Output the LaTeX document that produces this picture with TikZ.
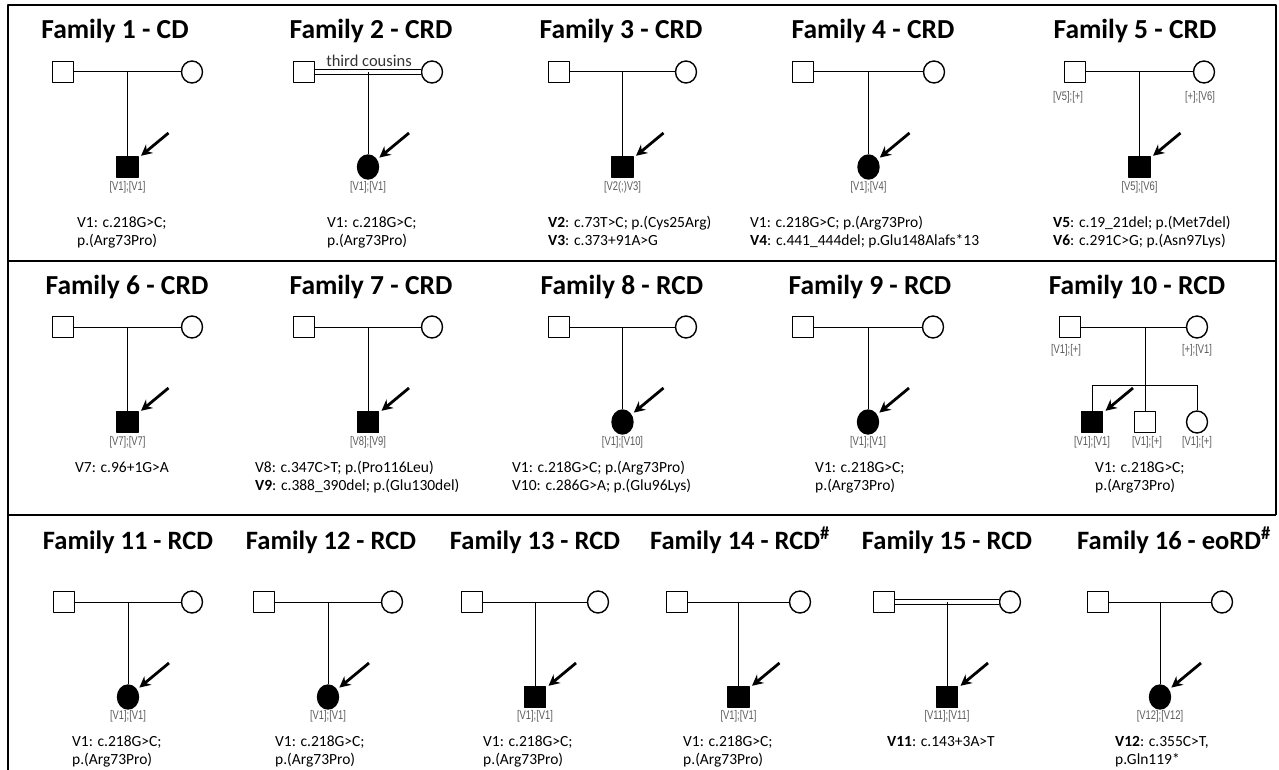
\documentclass[tikz,border=0pt]{standalone}
\usepackage{fontspec}
\setmainfont{Carlito}
\newfontfamily\genofont[FakeStretch=0.75]{Liberation Sans}
\usetikzlibrary{arrows.meta,calc,shapes.geometric}

\begin{document}
\begin{tikzpicture}[x=1pt, y=-1pt, line join=round,
    male/.style={draw, line width=1.4pt, minimum size=21pt, inner sep=0pt},
    female/.style={draw, ellipse, line width=1.4pt, minimum width=21pt, minimum height=22pt, inner sep=0pt},
    affm/.style={male, fill=black},
    afff/.style={female, fill=black, minimum width=21pt, minimum height=24pt},
    mate/.style={line width=1pt},
    consang/.style={double, double distance=3.5pt, line width=1pt},
    proband/.style={-{Stealth[length=11pt, width=11pt]}, line width=2.8pt, shorten >=3pt},
    title/.style={font=\bfseries\fontsize{27.5}{30}\selectfont, anchor=base},
    titlesm/.style={font=\bfseries\fontsize{26.5}{30}\selectfont, anchor=base},
    geno/.style={font=\genofont\fontsize{12.5}{14}\selectfont, text=black!65, anchor=base, inner sep=0pt},
    vartext/.style={font=\fontsize{15.5}{18}\selectfont, align=left, anchor=base west, inner sep=0pt},
    frame/.style={line width=2.5pt}]
    \useasboundingbox (0,0) rectangle (1279,770);

    % Rahmen
    \draw[frame] (8,770) -- (8,5) -- (1276,5) -- (1276,515);
    \draw[frame] (8,261) -- (1276,261);
    \draw[frame] (8,515) -- (1276,515);

    % ---------- Zeile 1 ----------
    % Family 1
    \node[title] (t1) at (115,39) {Family 1 - CD};
    \node[male] (fa1) at (63,72) {};
    \node[female] (mo1) at (192,72) {};
    \coordinate (m1) at (127.5,72);
    \node[affm] (ch1) at (127.5,167) {};
    \draw[mate] (fa1) -- (mo1);
    \draw[mate] (m1) -- (ch1);
    \coordinate (p1) at ($(ch1)+(41,-34)$);
    \draw[proband] (p1) -- (ch1);
    \node[geno] (g1) at (127.5,190) {[V1];[V1]};
    \node[vartext] (v1) at (77,245) {V1: c.218G>C;\\p.(Arg73Pro)};

    % Family 2
    \node[title] (t2) at (371,39) {Family 2 - CRD};
    \node[male] (fa2) at (304,72) {};
    \node[female] (mo2) at (432,72) {};
    \coordinate (m2) at (368,72);
    \node[afff] (ch2) at (368,167) {};
    \draw[consang] (fa2) -- (mo2);
    \node[font=\fontsize{16.5}{18}\selectfont, anchor=base, text=black!80] (tc2) at (369,67) {third cousins};
    \draw[mate] (m2) -- (ch2);
    \coordinate (p2) at ($(ch2)+(41,-34)$);
    \draw[proband] (p2) -- (ch2);
    \node[geno] (g2) at (368,190) {[V1];[V1]};
    \node[vartext] (v2) at (327,245) {V1: c.218G>C;\\p.(Arg73Pro)};

    % Family 3
    \node[title] (t3) at (621,39) {Family 3 - CRD};
    \node[male] (fa3) at (559,72) {};
    \node[female] (mo3) at (686,72) {};
    \coordinate (m3) at (622.5,72);
    \node[affm] (ch3) at (622.5,167) {};
    \draw[mate] (fa3) -- (mo3);
    \draw[mate] (m3) -- (ch3);
    \coordinate (p3) at ($(ch3)+(41,-34)$);
    \draw[proband] (p3) -- (ch3);
    \node[geno] (g3) at (622.5,190) {[V2(;)V3]};
    \node[vartext] (v3) at (548,245) {\textbf{V2}: c.73T>C; p.(Cys25Arg)\\\textbf{V3}: c.373+91A>G};

    % Family 4
    \node[title] (t4) at (873,39) {Family 4 - CRD};
    \node[male] (fa4) at (803,72) {};
    \node[female] (mo4) at (934,72) {};
    \coordinate (m4) at (868.5,72);
    \node[afff] (ch4) at (868.5,167) {};
    \draw[mate] (fa4) -- (mo4);
    \draw[mate] (m4) -- (ch4);
    \coordinate (p4) at ($(ch4)+(41,-34)$);
    \draw[proband] (p4) -- (ch4);
    \node[geno] (g4) at (868.5,190) {[V1];[V4]};
    \node[vartext] (v4) at (750,245) {V1: c.218G>C; p.(Arg73Pro)\\\textbf{V4}: c.441\_444del; p.Glu148Alafs*13};

    % Family 5
    \node[title] (t5) at (1135,39) {Family 5 - CRD};
    \node[male] (fa5) at (1075,72) {};
    \node[female] (mo5) at (1204,72) {};
    \coordinate (m5) at (1139.5,72);
    \node[affm] (ch5) at (1139.5,167) {};
    \draw[mate] (fa5) -- (mo5);
    \draw[mate] (m5) -- (ch5);
    \coordinate (p5) at ($(ch5)+(41,-34)$);
    \draw[proband] (p5) -- (ch5);
    \node[geno] (gf5) at (1068,101) {[V5];[+]};
    \node[geno] (gm5) at (1200,101) {[+];[V6]};
    \node[geno] (g5) at (1139.5,190) {[V5];[V6]};
    \node[vartext] (v5) at (1053,245) {\textbf{V5}: c.19\_21del; p.(Met7del)\\\textbf{V6}: c.291C>G; p.(Asn97Lys)};

    % ---------- Zeile 2 ----------
    % Family 6
    \node[title] (t6) at (127,294) {Family 6 - CRD};
    \node[male] (fa6) at (63,327) {};
    \node[female] (mo6) at (192,327) {};
    \coordinate (m6) at (127.5,327);
    \node[affm] (ch6) at (127.5,422) {};
    \draw[mate] (fa6) -- (mo6);
    \draw[mate] (m6) -- (ch6);
    \coordinate (p6) at ($(ch6)+(41,-34)$);
    \draw[proband] (p6) -- (ch6);
    \node[geno] (g6) at (127.5,445) {[V7];[V7]};
    \node[vartext] (v6) at (75,472) {V7: c.96+1G>A};

    % Family 7
    \node[title] (t7) at (371,294) {Family 7 - CRD};
    \node[male] (fa7) at (304,327) {};
    \node[female] (mo7) at (432,327) {};
    \coordinate (m7) at (368,327);
    \node[affm] (ch7) at (368,422) {};
    \draw[mate] (fa7) -- (mo7);
    \draw[mate] (m7) -- (ch7);
    \coordinate (p7) at ($(ch7)+(41,-34)$);
    \draw[proband] (p7) -- (ch7);
    \node[geno] (g7) at (368,445) {[V8];[V9]};
    \node[vartext] (v7) at (255,490) {V8: c.347C>T; p.(Pro116Leu)\\\textbf{V9}: c.388\_390del; p.(Glu130del)};

    % Family 8
    \node[title] (t8) at (622,294) {Family 8 - RCD};
    \node[male] (fa8) at (559,327) {};
    \node[female] (mo8) at (686,327) {};
    \coordinate (m8) at (622.5,327);
    \node[afff] (ch8) at (622.5,422) {};
    \draw[mate] (fa8) -- (mo8);
    \draw[mate] (m8) -- (ch8);
    \coordinate (p8) at ($(ch8)+(41,-34)$);
    \draw[proband] (p8) -- (ch8);
    \node[geno] (g8) at (622.5,445) {[V1];[V10]};
    \node[vartext] (v8) at (512,490) {V1: c.218G>C; p.(Arg73Pro)\\V10: c.286G>A; p.(Glu96Lys)};

    % Family 9
    \node[title] (t9) at (870,294) {Family 9 - RCD};
    \node[male] (fa9) at (803,327) {};
    \node[female] (mo9) at (933,327) {};
    \coordinate (m9) at (868,327);
    \node[afff] (ch9) at (868,422) {};
    \draw[mate] (fa9) -- (mo9);
    \draw[mate] (m9) -- (ch9);
    \coordinate (p9) at ($(ch9)+(41,-34)$);
    \draw[proband] (p9) -- (ch9);
    \node[geno] (g9) at (868,445) {[V1];[V1]};
    \node[vartext] (v9) at (815,490) {V1: c.218G>C;\\p.(Arg73Pro)};

    % Family 10 (drei Kinder)
    \node[title] (t10) at (1137,294) {Family 10 - RCD};
    \node[male] (fa10) at (1070,327) {};
    \node[female] (mo10) at (1197,327) {};
    \coordinate (m10) at (1145,327);
    \coordinate (sl10) at (1092,385);
    \coordinate (sr10) at (1197,385);
    \node[affm] (ch10a) at (1092,422) {};
    \node[male] (ch10b) at (1145,422) {};
    \node[female] (ch10c) at (1197,422) {};
    \draw[mate] (fa10) -- (mo10);
    \draw[mate] (m10) -- (ch10b);
    \draw[mate] (sl10) -- (sr10);
    \draw[mate] (sl10) -- (ch10a);
    \draw[mate] (sr10) -- (ch10c);
    \coordinate (p10) at ($(ch10a)+(41,-34)$);
    \draw[proband] (p10) -- (ch10a);
    \node[geno] (gf10) at (1066,353) {[V1];[+]};
    \node[geno] (gm10) at (1197,353) {[+];[V1]};
    \node[geno] (g10a) at (1092,445) {[V1];[V1]};
    \node[geno] (g10b) at (1147,445) {[V1];[+]};
    \node[geno] (g10c) at (1197,445) {[V1];[+]};
    \node[vartext] (v10) at (1095,490) {V1: c.218G>C;\\p.(Arg73Pro)};

    % ---------- Zeile 3 ----------
    % Family 11
    \node[titlesm] (t11) at (128,549) {Family 11 - RCD};
    \node[male] (fa11) at (64,602) {};
    \node[female] (mo11) at (192,602) {};
    \coordinate (m11) at (128,602);
    \node[afff] (ch11) at (128,697) {};
    \draw[mate] (fa11) -- (mo11);
    \draw[mate] (m11) -- (ch11);
    \coordinate (p11) at ($(ch11)+(41,-34)$);
    \draw[proband] (p11) -- (ch11);
    \node[geno] (g11) at (128,719) {[V1];[V1]};
    \node[vartext] (v11) at (72,764) {V1: c.218G>C;\\p.(Arg73Pro)};

    % Family 12
    \node[titlesm] (t12) at (331,549) {Family 12 - RCD};
    \node[male] (fa12) at (264,602) {};
    \node[female] (mo12) at (392,602) {};
    \coordinate (m12) at (328,602);
    \node[afff] (ch12) at (328,697) {};
    \draw[mate] (fa12) -- (mo12);
    \draw[mate] (m12) -- (ch12);
    \coordinate (p12) at ($(ch12)+(41,-34)$);
    \draw[proband] (p12) -- (ch12);
    \node[geno] (g12) at (328,719) {[V1];[V1]};
    \node[vartext] (v12) at (275,764) {V1: c.218G>C;\\p.(Arg73Pro)};

    % Family 13
    \node[titlesm] (t13) at (535,549) {Family 13 - RCD};
    \node[male] (fa13) at (472,602) {};
    \node[female] (mo13) at (598,602) {};
    \coordinate (m13) at (535,602);
    \node[affm] (ch13) at (535,697) {};
    \draw[mate] (fa13) -- (mo13);
    \draw[mate] (m13) -- (ch13);
    \coordinate (p13) at ($(ch13)+(41,-34)$);
    \draw[proband] (p13) -- (ch13);
    \node[geno] (g13) at (535,719) {[V1];[V1]};
    \node[vartext] (v13) at (483,764) {V1: c.218G>C;\\p.(Arg73Pro)};

    % Family 14
    \node[titlesm] (t14) at (740,549) {Family 14 - RCD\textsuperscript{\#}};
    \node[male] (fa14) at (677,602) {};
    \node[female] (mo14) at (800,602) {};
    \coordinate (m14) at (738.5,602);
    \node[affm] (ch14) at (738.5,697) {};
    \draw[mate] (fa14) -- (mo14);
    \draw[mate] (m14) -- (ch14);
    \coordinate (p14) at ($(ch14)+(41,-34)$);
    \draw[proband] (p14) -- (ch14);
    \node[geno] (g14) at (738.5,719) {[V1];[V1]};
    \node[vartext] (v14) at (683,764) {V1: c.218G>C;\\p.(Arg73Pro)};

    % Family 15
    \node[titlesm] (t15) at (947,549) {Family 15 - RCD};
    \node[male] (fa15) at (884,602) {};
    \node[female] (mo15) at (1010,602) {};
    \coordinate (m15) at (947,602);
    \node[affm] (ch15) at (947,697) {};
    \draw[consang] (fa15) -- (mo15);
    \draw[mate] (m15) -- (ch15);
    \coordinate (p15) at ($(ch15)+(41,-34)$);
    \draw[proband] (p15) -- (ch15);
    \node[geno] (g15) at (947,719) {[V11];[V11]};
    \node[vartext] (v15) at (887,746) {\textbf{V11}: c.143+3A>T};

    % Family 16
    \node[titlesm] (t16) at (1174,549) {Family 16 - eoRD\textsuperscript{\#}};
    \node[male] (fa16) at (1098,602) {};
    \node[female] (mo16) at (1222,602) {};
    \coordinate (m16) at (1160,602);
    \node[afff] (ch16) at (1160,697) {};
    \draw[mate] (fa16) -- (mo16);
    \draw[mate] (m16) -- (ch16);
    \coordinate (p16) at ($(ch16)+(41,-34)$);
    \draw[proband] (p16) -- (ch16);
    \node[geno] (g16) at (1160,719) {[V12];[V12]};
    \node[vartext] (v16) at (1115,764) {\textbf{V12}: c.355C>T,\\p.Gln119*};
\end{tikzpicture}
\end{document}
